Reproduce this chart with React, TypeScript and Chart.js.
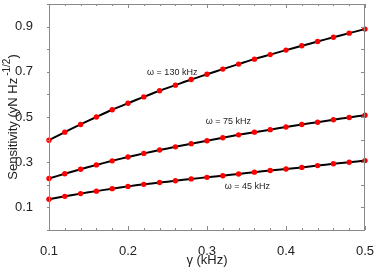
import React, { useEffect, useRef } from "react";
import { Chart, registerables } from "chart.js";

Chart.register(...registerables);

const gammaKHz = [0.1, 0.12, 0.14, 0.16, 0.18, 0.2, 0.22, 0.24, 0.26, 0.28, 0.3, 0.32, 0.34, 0.36, 0.38, 0.4, 0.42, 0.44, 0.46, 0.48, 0.5];
const omega130 = [0.397, 0.433, 0.467, 0.5, 0.532, 0.561, 0.589, 0.616, 0.641, 0.666, 0.689, 0.712, 0.734, 0.756, 0.776, 0.796, 0.815, 0.834, 0.853, 0.871, 0.889];
const omega75 = [0.228, 0.249, 0.269, 0.288, 0.306, 0.323, 0.339, 0.354, 0.368, 0.382, 0.395, 0.408, 0.421, 0.433, 0.444, 0.456, 0.467, 0.477, 0.488, 0.498, 0.508];
const omega45 = [0.136, 0.149, 0.161, 0.172, 0.183, 0.193, 0.202, 0.21, 0.218, 0.226, 0.233, 0.24, 0.248, 0.256, 0.263, 0.27, 0.277, 0.285, 0.293, 0.3, 0.307];
const seriesLabels = ["ω = 130 kHz", "ω = 75 kHz", "ω = 45 kHz"];
const labelAnchors = [
  { x: 0.256, y: 0.699 },
  { x: 0.327, y: 0.479 },
  { x: 0.351, y: 0.193 },
];
const yTickLabels = [0.1, 0.3, 0.5, 0.7, 0.9];
const xTickLabels = [0.1, 0.2, 0.3, 0.4, 0.5];

const FONT = "Liberation Sans, Arial, Helvetica, sans-serif";
const TEXT = "#222";

const framePlugin = {
  id: "frame",
  afterDraw(chart: any) {
    const { ctx, chartArea: a, scales } = chart;
    const xs = scales.x;
    const ys = scales.y;
    ctx.save();
    ctx.strokeStyle = "#8a8a8a";
    ctx.lineWidth = 1;
    ctx.strokeRect(a.left + 0.5, a.top + 0.5, a.right - a.left - 1, a.bottom - a.top);
    ctx.beginPath();
    for (let i = 0; i <= 20; i++) {
      const v = 0.1 + i * 0.02;
      const px = Math.round(xs.getPixelForValue(v)) + 0.5;
      const len = i % 5 === 0 ? 4 : 2;
      ctx.moveTo(px, a.bottom);
      ctx.lineTo(px, a.bottom - len);
      ctx.moveTo(px, a.top);
      ctx.lineTo(px, a.top + len);
    }
    for (let i = 0; i <= 10; i++) {
      const v = i * 0.1;
      const py = Math.round(ys.getPixelForValue(v)) + 0.5;
      ctx.moveTo(a.left - 2, py);
      ctx.lineTo(a.left, py);
      ctx.moveTo(a.right, py);
      ctx.lineTo(a.right - 4, py);
    }
    ctx.stroke();

    // series labels
    ctx.fillStyle = TEXT;
    ctx.font = `9px ${FONT}`;
    ctx.textAlign = "center";
    ctx.textBaseline = "middle";
    seriesLabels.forEach((t, i) => {
      ctx.fillText(t, xs.getPixelForValue(labelAnchors[i].x), ys.getPixelForValue(labelAnchors[i].y));
    });

    // x title
    ctx.font = `13px ${FONT}`;
    ctx.fillText("γ (kHz)", (a.left + a.right) / 2, 260);

    // y title with superscript
    ctx.textBaseline = "alphabetic";
    ctx.translate(17, (a.top + a.bottom) / 2);
    ctx.rotate(-Math.PI / 2);
    const main = "Sensitivity (yN Hz";
    const sup = "-1/2";
    const close = ")";
    const gap = 2;
    ctx.font = `13px ${FONT}`;
    const wMain = ctx.measureText(main).width;
    const wClose = ctx.measureText(close).width;
    ctx.font = `10px ${FONT}`;
    const wSup = ctx.measureText(sup).width;
    const total = wMain + gap + wSup + wClose;
    let x0 = -total / 2;
    ctx.textAlign = "left";
    ctx.font = `13px ${FONT}`;
    ctx.fillText(main, x0, 0);
    x0 += wMain + gap;
    ctx.font = `10px ${FONT}`;
    ctx.fillText(sup, x0, -7);
    x0 += wSup;
    ctx.font = `13px ${FONT}`;
    ctx.fillText(close, x0, 0);
    ctx.restore();
  },
};

export default function App() {
  const ref = useRef<HTMLCanvasElement>(null);
  useEffect(() => {
    document.body.style.margin = "0";
    const mk = (d: number[]) => ({
      data: gammaKHz.map((x, i) => ({ x, y: d[i] })),
      borderColor: "#000",
      borderWidth: 2,
      pointBackgroundColor: "#ff0000",
      pointBorderColor: "#ff0000",
      pointBorderWidth: 0,
      pointRadius: 2.7,
      tension: 0.3,
      clip: false as any,
    });
    const chart = new Chart(ref.current!, {
      type: "line",
      data: { datasets: [mk(omega130), mk(omega75), mk(omega45)] },
      plugins: [framePlugin],
      options: {
        animation: false,
        responsive: false,
        maintainAspectRatio: false,
        layout: { padding: { top: 2, right: 9, left: 0, bottom: 0 } },
        plugins: { legend: { display: false }, tooltip: { enabled: false } },
        scales: {
          x: {
            type: "linear",
            min: 0.1,
            max: 0.5,
            grid: { display: false },
            border: { display: false },
            afterBuildTicks: (s: any) => {
              s.ticks = xTickLabels.map((v) => ({ value: v }));
            },
            afterFit: (s: any) => {
              s.height = 38;
              s.paddingLeft = 0;
              s.paddingRight = 0;
              s.paddingTop = 0;
              s.paddingBottom = 0;
            },
            ticks: {
              padding: 6,
              color: TEXT,
              font: { family: FONT, size: 13 },
              maxRotation: 0,
              callback: (v: any) => Number(v).toFixed(1),
            },
          },
          y: {
            type: "linear",
            min: 0,
            max: 1,
            grid: { display: false },
            border: { display: false },
            afterBuildTicks: (s: any) => {
              s.ticks = yTickLabels.map((v) => ({ value: v }));
            },
            afterFit: (s: any) => {
              s.width = 49;
              s.paddingLeft = 0;
              s.paddingRight = 0;
              s.paddingTop = 0;
              s.paddingBottom = 0;
            },
            ticks: {
              padding: 8,
              color: TEXT,
              font: { family: FONT, size: 13 },
              callback: (v: any) => Number(v).toFixed(1),
            },
          },
        },
      },
    });
    return () => chart.destroy();
  }, []);
  return (
    <div style={{ position: "fixed", left: 0, top: 0, width: 374, height: 268 }}>
      <canvas ref={ref} width={374} height={268} style={{ display: "block" }} />
    </div>
  );
}
